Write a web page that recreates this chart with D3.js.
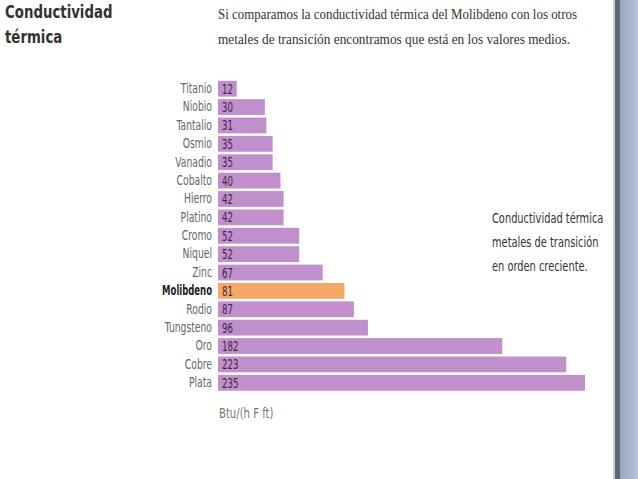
<!DOCTYPE html>
<html><head><meta charset="utf-8">
<script src="https://cdn.jsdelivr.net/npm/d3@7"></script>
<style>
html,body{margin:0;padding:0;background:#fff;}
svg{display:block;}
</style></head>
<body>
<svg id="chart" width="638" height="479"></svg>
<script>
const categories = ["Titanio","Niobio","Tantalio","Osmio","Vanadio","Cobalto","Hierro","Platino","Cromo","Niquel","Zinc","Molibdeno","Rodio","Tungsteno","Oro","Cobre","Plata"];
const values = [12,30,31,35,35,40,42,42,52,52,67,81,87,96,182,223,235];
const highlight = "Molibdeno";
const titleLines = ["Conductividad","térmica"];
const introLines = ["Si comparamos la conductividad térmica del Molibdeno con los otros","metales de transición encontramos que está en los valores medios."];
const noteLines = ["Conductividad térmica","metales de transición","en orden creciente."];
const unitLabel = "Btu/(h F ft)";

const svg = d3.select("#chart");
const narrow = "'DejaVu Sans Condensed','DejaVu Sans',sans-serif";

function condense(sel, f){
  sel.each(function(){
    const w = this.getComputedTextLength();
    d3.select(this).attr("textLength", w*f).attr("lengthAdjust","spacingAndGlyphs");
  });
}

// right-hand window frame
svg.append("rect").attr("x",613).attr("y",0).attr("width",2).attr("height",479).attr("fill","#c9ccd2");
svg.append("rect").attr("x",615).attr("y",0).attr("width",5).attr("height",479).attr("fill","#5b6678");
const g = svg.append("defs").append("linearGradient").attr("id","fr").attr("x1","0").attr("x2","1");
g.append("stop").attr("offset","0").attr("stop-color","#9aa6bc");
g.append("stop").attr("offset","1").attr("stop-color","#b8c2d6");
svg.append("rect").attr("x",620).attr("y",0).attr("width",18).attr("height",479).attr("fill","url(#fr)");

// header
const tt = svg.selectAll("text.title").data(titleLines).join("text")
  .attr("class","title").attr("x",5).attr("y",(d,i)=>18+i*25)
  .attr("font-family",narrow).attr("font-weight","bold").attr("font-size",17)
  .attr("fill","#333").text(d=>d);
condense(tt, 0.87);
svg.selectAll("text.intro").data(introLines).join("text")
  .attr("class","intro").attr("x",218).attr("y",(d,i)=>19+i*25)
  .attr("font-family","'Liberation Serif','DejaVu Serif',serif").attr("font-size",14)
  .attr("fill","#333").attr("textLength",(d,i)=>i===0?359:352).attr("lengthAdjust","spacingAndGlyphs")
  .text(d=>d);

const x = d3.scaleLinear().domain([0,235]).range([218,585]);
const y = d3.scaleBand().domain(categories).range([79.5,392]).paddingInner(0.14).paddingOuter(0.07);

const data = categories.map((c,i)=>({name:c,value:values[i]}));

svg.selectAll("rect.bar").data(data).join("rect")
  .attr("class","bar").attr("x",x(0)).attr("y",d=>y(d.name))
  .attr("width",d=>x(d.value)-x(0)).attr("height",y.bandwidth())
  .attr("fill",d=>d.name===highlight?"#f3a866":"#c18fcb");

const vt = svg.selectAll("text.val").data(data).join("text")
  .attr("class","val").attr("x",x(0)+4).attr("y",d=>y(d.name)+y.bandwidth()/2+5)
  .attr("font-family",narrow).attr("font-size",14).attr("fill","#3b2a45").text(d=>d.value);
condense(vt, 0.68);

// category axis (labels horizontally compressed with a transform)
const axis = d3.axisLeft(y).tickSize(0).tickPadding(0);
const ag = svg.append("g").attr("transform",`translate(${x(0)},0)`).call(axis);
ag.select(".domain").remove();
ag.selectAll(".tick text")
  .attr("x",0).attr("dy","0.32em")
  .attr("transform",d=>`translate(-6,0) scale(${d===highlight?0.7:0.76},1)`)
  .attr("font-family",narrow).attr("font-size",13.5)
  .attr("fill",d=>d===highlight?"#222":"#666")
  .attr("font-weight",d=>d===highlight?"bold":"normal");

const ut = svg.append("text").attr("x",219).attr("y",418).attr("font-family",narrow)
  .attr("font-size",14).attr("fill","#777").text(unitLabel);
condense(ut, 0.8);

const nt = svg.selectAll("text.note").data(noteLines).join("text")
  .attr("class","note").attr("x",492).attr("y",(d,i)=>223+i*24)
  .attr("font-family",narrow).attr("font-size",13.5)
  .attr("fill","#333").text(d=>d);
condense(nt, 0.81);
</script>
</body></html>
